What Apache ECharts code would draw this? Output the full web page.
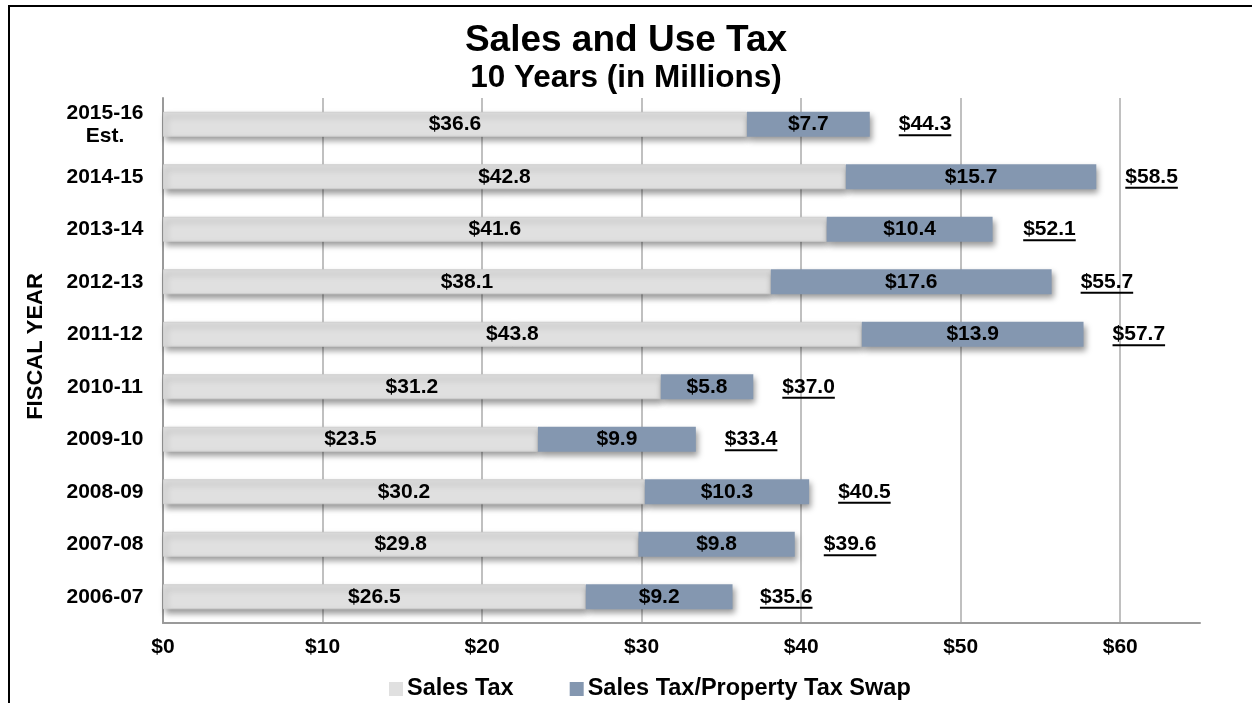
<!DOCTYPE html>
<html>
<head>
<meta charset="utf-8">
<title>Sales and Use Tax</title>
<script src="https://cdn.jsdelivr.net/npm/echarts@6/dist/echarts.min.js"></script>
<style>
  html, body { margin: 0; padding: 0; background: #fff; }
  #frame { position: absolute; left: 8px; top: 5px; width: 1300px; height: 760px;
           border-left: 2px solid #000; border-top: 2px solid #000; }
  #chart { position: absolute; left: 0; top: 0; width: 1252px; height: 703px; }
</style>
</head>
<body>
<div id="frame"></div>
<div id="chart"></div>
<script>
// Fiscal years, listed top to bottom
const years = ['2015-16\nEst.', '2014-15', '2013-14', '2012-13', '2011-12',
               '2010-11', '2009-10', '2008-09', '2007-08', '2006-07'];
// Sales tax revenue ($ millions)
const salesTax = [36.6, 42.8, 41.6, 38.1, 43.8, 31.2, 23.5, 30.2, 29.8, 26.5];
// Sales tax / property tax swap revenue ($ millions)
const swapTax = [7.7, 15.7, 10.4, 17.6, 13.9, 5.8, 9.9, 10.3, 9.8, 9.2];
// Reported yearly totals ($ millions)
const totals = [44.3, 58.5, 52.1, 55.7, 57.7, 37.0, 33.4, 40.5, 39.6, 35.6];
// Value axis ticks
const xTicks = [0, 10, 20, 30, 40, 50, 60];

const FONT = '"Liberation Sans", Arial, Helvetica, sans-serif';
const money = v => '$' + Number(v).toFixed(1);

const measureCtx = document.createElement('canvas').getContext('2d');
function textWidth(str, size) {
  measureCtx.font = 'bold ' + size + 'px ' + FONT;
  return measureCtx.measureText(str).width;
}

const barShadow = {
  shadowBlur: 6,
  shadowOffsetX: 2,
  shadowOffsetY: 4,
  shadowColor: 'rgba(0,0,0,0.4)'
};

const chart = echarts.init(document.getElementById('chart'), null, { renderer: 'canvas' });

chart.setOption({
  backgroundColor: 'transparent',
  animation: false,
  textStyle: { fontFamily: FONT },
  title: [
    {
      text: 'Sales and Use Tax',
      left: 'center',
      top: 17,
      textStyle: { fontSize: 37, fontWeight: 'bold', color: '#000', fontFamily: FONT }
    },
    {
      text: '10 Years (in Millions)',
      left: 'center',
      top: 57,
      textStyle: { fontSize: 31.5, fontWeight: 'bold', color: '#000', fontFamily: FONT }
    }
  ],
  legend: {
    data: ['Sales Tax', 'Sales Tax/Property Tax Swap'],
    left: 384,
    top: 672,
    itemWidth: 14,
    itemHeight: 14,
    itemGap: 56,
    icon: 'rect',
    itemStyle: { shadowBlur: 0, shadowOffsetX: 0, shadowOffsetY: 0, borderWidth: 0 },
    textStyle: { fontSize: 23.5, fontWeight: 'bold', color: '#000', fontFamily: FONT, padding: [0, 0, 0, -1] }
  },
  grid: { left: 163, right: 52, top: 98, bottom: 80, containLabel: false },
  xAxis: {
    type: 'value',
    min: 0,
    max: 65,
    interval: 10,
    axisLine: { show: true, lineStyle: { color: '#9a9a9a', width: 2 } },
    axisTick: { show: false },
    splitLine: { show: true, showMaxLine: false, lineStyle: { color: '#ababab', width: 1.5 } },
    axisLabel: {
      margin: 14,
      fontSize: 21,
      fontWeight: 'bold',
      color: '#000',
      fontFamily: FONT,
      showMaxLabel: false,
      formatter: v => (xTicks.indexOf(v) >= 0 ? '$' + v : '')
    }
  },
  yAxis: {
    type: 'category',
    data: years,
    inverse: true,
    name: 'FISCAL YEAR',
    nameLocation: 'middle',
    nameRotate: 90,
    nameGap: 116,
    nameTextStyle: { fontSize: 22, fontWeight: 'bold', color: '#000', fontFamily: FONT, padding: [0, 0, 0, 28] },
    axisLine: { show: true, lineStyle: { color: '#9a9a9a', width: 2 } },
    axisTick: { show: false },
    splitLine: { show: false },
    axisLabel: {
      margin: 58,
      align: 'center',
      fontSize: 21,
      lineHeight: 23,
      fontWeight: 'bold',
      color: '#000',
      fontFamily: FONT
    }
  },
  series: [
    {
      name: 'Sales Tax',
      type: 'bar',
      stack: 'total',
      barWidth: 25,
      data: salesTax,
      itemStyle: Object.assign({ color: '#e0e0e0', borderColor: '#cfcfcf', borderWidth: 1 }, barShadow),
      label: {
        show: true,
        position: 'inside',
        formatter: p => money(p.value),
        fontSize: 21,
        fontWeight: 'bold',
        color: '#000',
        fontFamily: FONT
      }
    },
    {
      name: 'Sales Tax/Property Tax Swap',
      type: 'bar',
      stack: 'total',
      barWidth: 25,
      data: swapTax,
      itemStyle: Object.assign({ color: '#8497b0' }, barShadow),
      label: {
        show: true,
        position: 'inside',
        formatter: p => money(p.value),
        fontSize: 21,
        fontWeight: 'bold',
        color: '#000',
        fontFamily: FONT
      }
    },
    {
      // Underlined yearly totals placed just past the end of each stacked bar
      name: 'Total',
      type: 'custom',
      clip: false,
      silent: true,
      encode: { x: 0, y: 1 },
      data: totals.map((t, i) => [t, i]),
      renderItem: function (params, api) {
        const pt = api.coord([api.value(0), api.value(1)]);
        const txt = money(api.value(0));
        const x0 = pt[0] + 29;
        const w = textWidth(txt, 21);
        return {
          type: 'group',
          children: [
            {
              type: 'text',
              style: {
                text: txt,
                x: x0,
                y: pt[1],
                align: 'left',
                verticalAlign: 'middle',
                fontSize: 21,
                fontWeight: 'bold',
                fontFamily: FONT,
                fill: '#000'
              }
            },
            {
              type: 'rect',
              shape: { x: x0, y: pt[1] + 10, width: w, height: 2 },
              style: { fill: '#000' }
            }
          ]
        };
      }
    }
  ]
});
</script>
</body>
</html>
